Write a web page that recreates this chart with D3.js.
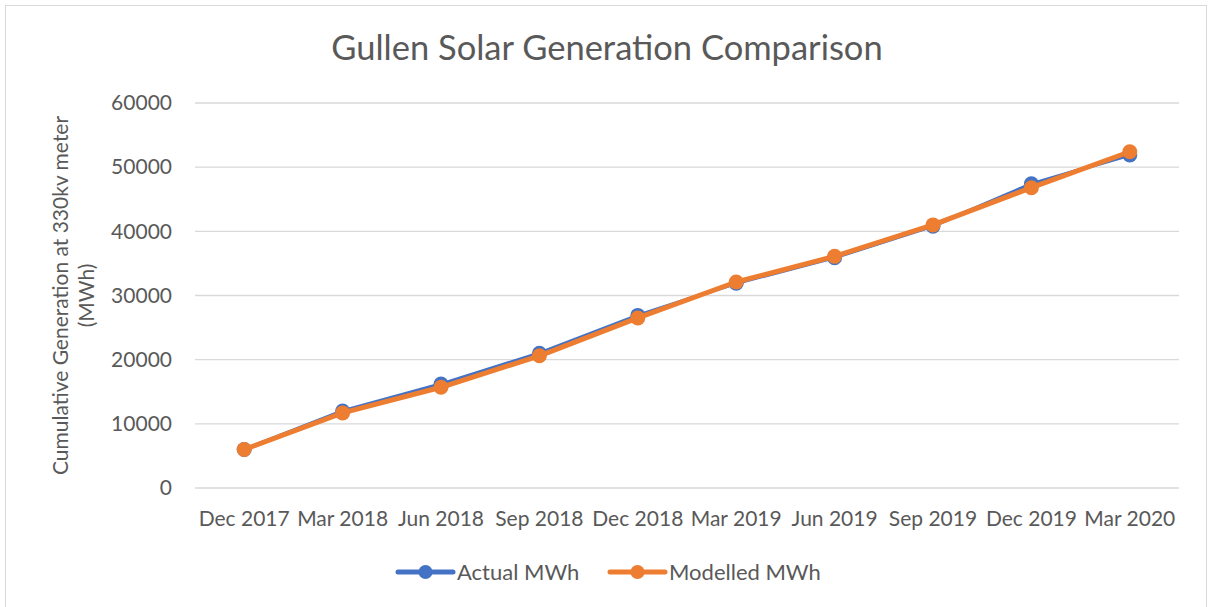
<!DOCTYPE html>
<html>
<head>
<meta charset="utf-8">
<script src="https://cdn.jsdelivr.net/npm/d3@7"></script>
<style>
  body { margin: 0; background: #fff; }
  svg { display: block; font-family: Lato, "Open Sans", sans-serif; }
</style>
</head>
<body>
<svg id="chart" width="1208" height="607"></svg>
<script>
// chart data
var quarters = ["Dec 2017", "Mar 2018", "Jun 2018", "Sep 2018", "Dec 2018",
                "Mar 2019", "Jun 2019", "Sep 2019", "Dec 2019", "Mar 2020"];
var actualMWh   = [6000, 12000, 16200, 21000, 26900, 31900, 35900, 40800, 47400, 51900];
var modelledMWh = [6000, 11700, 15700, 20600, 26500, 32100, 36100, 41000, 46800, 52400];
var yTicks = [0, 10000, 20000, 30000, 40000, 50000, 60000];

var seriesNames = ["Actual MWh", "Modelled MWh"];
var seriesColors = ["#4472c4", "#ed7d31"];

var svg = d3.select("#chart");
var W = 1208, H = 607;
var margin = {left: 195, right: 29, top: 103, bottom: 119};

var textColor = "#595959";

// outer border
svg.append("rect")
    .attr("x", 5.5).attr("y", 5.5)
    .attr("width", W - 7).attr("height", H - 5)
    .attr("fill", "#fff")
    .attr("stroke", "#d9d9d9");

var x = d3.scaleBand()
    .domain(quarters)
    .range([margin.left, W - margin.right]);

var y = d3.scaleLinear()
    .domain([0, 60000])
    .range([H - margin.bottom, margin.top]);

// gridlines
svg.append("g")
    .selectAll("line")
    .data(yTicks)
    .enter().append("line")
    .attr("x1", margin.left).attr("x2", W - margin.right)
    .attr("y1", function(d) { return y(d); })
    .attr("y2", function(d) { return y(d); })
    .attr("stroke", "#d9d9d9")
    .attr("stroke-width", 1.3);

// y axis labels
var yAxis = d3.axisLeft(y).tickValues(yTicks).tickSize(0).tickPadding(23)
    .tickFormat(d3.format("d"));
var gy = svg.append("g")
    .attr("transform", "translate(" + margin.left + ",0)")
    .call(yAxis);
gy.select(".domain").remove();
gy.selectAll("text")
    .attr("fill", textColor)
    .style("font-size", "21px")
    .style("font-family", "Lato, sans-serif");

// x axis labels
var xAxis = d3.axisBottom(x).tickSize(0).tickPadding(23);
var gx = svg.append("g")
    .attr("transform", "translate(0," + (H - margin.bottom) + ")")
    .call(xAxis);
gx.select(".domain").remove();
gx.selectAll("text")
    .attr("fill", textColor)
    .style("font-size", "21px")
    .style("font-family", "Lato, sans-serif");

// title
svg.append("text")
    .attr("x", 607).attr("y", 60)
    .attr("text-anchor", "middle")
    .attr("fill", textColor)
    .style("font-size", "34.5px")
    .text("Gullen Solar Generation Comparison");

// y axis title
var yTitle = svg.append("text")
    .attr("transform", "translate(68," + ((margin.top + H - margin.bottom) / 2) + ") rotate(-90)")
    .attr("text-anchor", "middle")
    .attr("fill", textColor)
    .style("font-size", "21px");
yTitle.append("tspan").attr("x", 0).attr("y", 0).text("Cumulative Generation at 330kv meter");
yTitle.append("tspan").attr("x", 0).attr("y", 26).text("(MWh)");

// lines
var line = d3.line()
    .x(function(d, i) { return x(quarters[i]) + x.bandwidth() / 2; })
    .y(function(d) { return y(d); });

var allSeries = [actualMWh, modelledMWh];
var widths = [3.5, 5];

allSeries.forEach(function(vals, s) {
    var g = svg.append("g");
    g.append("path")
        .datum(vals)
        .attr("d", line)
        .attr("fill", "none")
        .attr("stroke", seriesColors[s])
        .attr("stroke-width", widths[s])
        .attr("stroke-linejoin", "round");
    g.selectAll("circle")
        .data(vals)
        .enter().append("circle")
        .attr("cx", function(d, i) { return x(quarters[i]) + x.bandwidth() / 2; })
        .attr("cy", function(d) { return y(d); })
        .attr("r", 7.5)
        .attr("fill", seriesColors[s]);
});

// legend
var legendX = [398, 610];
var legend = svg.append("g");
seriesNames.forEach(function(name, s) {
    var lx = legendX[s], ly = 572;
    legend.append("line")
        .attr("x1", lx).attr("x2", lx + 55)
        .attr("y1", ly).attr("y2", ly)
        .attr("stroke", seriesColors[s])
        .attr("stroke-width", 5)
        .attr("stroke-linecap", "round");
    legend.append("circle")
        .attr("cx", lx + 27.5).attr("cy", ly)
        .attr("r", 7)
        .attr("fill", seriesColors[s]);
    legend.append("text")
        .attr("x", lx + 59).attr("y", ly + 8)
        .attr("fill", textColor)
        .style("font-size", "22px")
        .text(name);
});
</script>
</body>
</html>
